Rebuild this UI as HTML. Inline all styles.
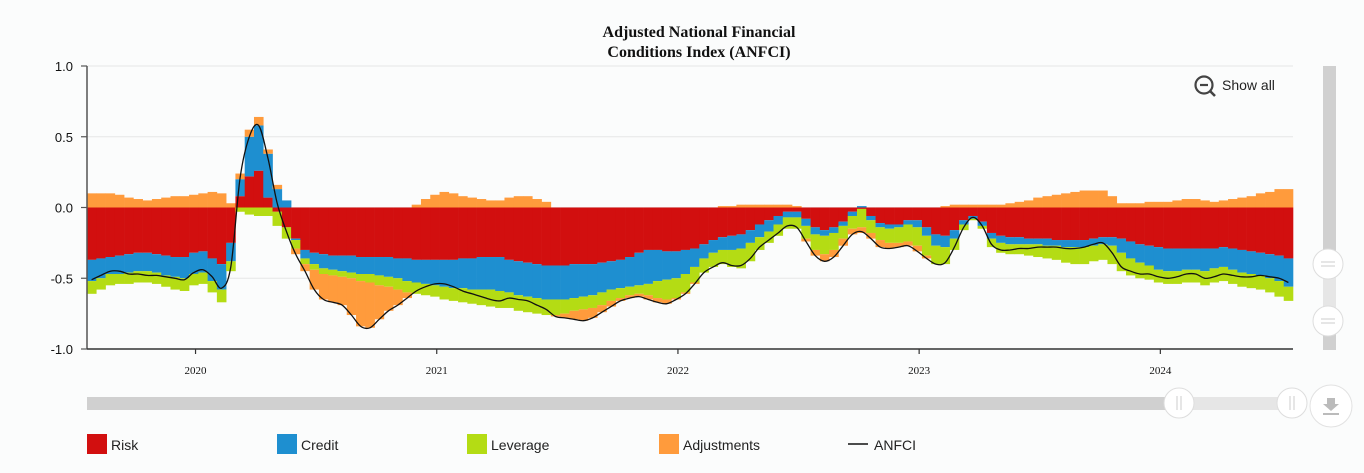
<!DOCTYPE html>
<html><head><meta charset="utf-8">
<style>
html,body{margin:0;padding:0;background:#fbfcfc;}
svg{display:block;font-family:"Liberation Sans",sans-serif;}
</style></head>
<body>
<svg id="chart" width="1364" height="473" viewBox="0 0 1364 473" xmlns="http://www.w3.org/2000/svg">
<rect x="0" y="0" width="1364" height="473" fill="#fbfcfc"/>
<g font-family="Liberation Serif, serif" font-weight="bold" font-size="16" fill="#111" text-anchor="middle">
<text x="699" y="37">Adjusted National Financial</text>
<text x="699" y="57">Conditions Index (ANFCI)</text>
</g>
<g id="grid"></g>
<g id="bars"></g>
<g id="line"></g>
<g id="axes"></g>
<g>
<circle cx="1204" cy="85" r="8.5" fill="none" stroke="#444" stroke-width="2.2"/>
<line x1="1210" y1="91" x2="1215" y2="96" stroke="#444" stroke-width="2.6"/>
<line x1="1200" y1="85" x2="1208" y2="85" stroke="#444" stroke-width="2.2"/>
<text x="1222" y="90" font-size="14" fill="#222">Show all</text>
</g>
<g>
<rect x="1323" y="66" width="13" height="284" fill="#d0d0d0"/>
<rect x="1323" y="264" width="13" height="57" fill="#e6e6e6"/>
<circle cx="1328" cy="264" r="15" fill="#fff" stroke="#ddd"/>
<line x1="1321" y1="262" x2="1335" y2="262" stroke="#ccc"/><line x1="1321" y1="266" x2="1335" y2="266" stroke="#ccc"/>
<circle cx="1328" cy="321" r="15" fill="#fff" stroke="#ddd"/>
<line x1="1321" y1="319" x2="1335" y2="319" stroke="#ccc"/><line x1="1321" y1="323" x2="1335" y2="323" stroke="#ccc"/>
</g>
<g>
<rect x="87" y="397" width="1093" height="13" fill="#d0d0d0"/>
<rect x="1180" y="397" width="112" height="13" fill="#e6e6e6"/>
<circle cx="1179" cy="403" r="15" fill="#fff" stroke="#ddd"/>
<line x1="1177" y1="396" x2="1177" y2="410" stroke="#ccc"/><line x1="1181" y1="396" x2="1181" y2="410" stroke="#ccc"/>
<circle cx="1292" cy="403" r="15" fill="#fff" stroke="#ddd"/>
<line x1="1290" y1="396" x2="1290" y2="410" stroke="#ccc"/><line x1="1294" y1="396" x2="1294" y2="410" stroke="#ccc"/>
</g>
<g>
<circle cx="1331" cy="406" r="21" fill="#fff" stroke="#e2e2e2"/>
<path d="M1327 398h8v6h4l-8 7-8-7h4z" fill="#bbb"/>
<rect x="1323" y="413" width="16" height="2" fill="#bbb"/>
</g>
<g id="legend" font-size="14" fill="#222"></g>
</svg>
<script>
// Data: bi-weekly observations, Jul 2019 - Jul 2024
const startYear = 2019.55;
const stepYears = 2/52;
const risk = [-.37,-.36,-.35,-.34,-.33,-.32,-.32,-.33,-.34,-.35,-.35,-.32,-.31,-.36,-.40,-.25,.08,.22,.26,.07,-.03,-.14,-.22,-.30,-.32,-.33,-.34,-.34,-.34,-.35,-.35,-.35,-.35,-.36,-.36,-.37,-.37,-.37,-.37,-.37,-.36,-.36,-.35,-.35,-.35,-.37,-.38,-.39,-.40,-.41,-.41,-.41,-.40,-.40,-.40,-.39,-.38,-.37,-.35,-.32,-.30,-.30,-.31,-.31,-.30,-.29,-.26,-.23,-.21,-.20,-.19,-.16,-.12,-.09,-.06,-.03,-.03,-.08,-.14,-.16,-.14,-.10,-.03,-.01,-.06,-.11,-.12,-.12,-.09,-.09,-.14,-.19,-.20,-.16,-.09,-.06,-.10,-.18,-.20,-.21,-.21,-.22,-.22,-.22,-.23,-.23,-.23,-.23,-.22,-.21,-.21,-.22,-.24,-.26,-.27,-.28,-.29,-.29,-.29,-.29,-.29,-.29,-.28,-.29,-.30,-.31,-.32,-.33,-.34,-.36];
const credit = [-.15,-.14,-.12,-.13,-.13,-.13,-.13,-.13,-.14,-.14,-.15,-.15,-.15,-.16,-.18,-.13,.12,.28,.32,.31,.13,.05,-.01,-.06,-.08,-.10,-.10,-.11,-.12,-.12,-.12,-.13,-.14,-.14,-.16,-.16,-.17,-.18,-.19,-.20,-.21,-.22,-.23,-.23,-.24,-.23,-.24,-.24,-.24,-.24,-.24,-.24,-.24,-.23,-.22,-.21,-.20,-.20,-.21,-.23,-.24,-.22,-.20,-.19,-.17,-.13,-.10,-.09,-.09,-.10,-.10,-.09,-.09,-.08,-.06,-.04,-.04,-.05,-.05,-.04,-.04,-.03,-.03,.01,-.03,-.03,-.03,-.02,-.03,-.05,-.06,-.08,-.08,-.06,-.03,-.02,-.03,-.04,-.05,-.05,-.05,-.04,-.04,-.05,-.04,-.05,-.05,-.05,-.05,-.05,-.06,-.10,-.12,-.13,-.14,-.16,-.16,-.16,-.15,-.15,-.16,-.14,-.14,-.15,-.16,-.16,-.16,-.17,-.18,-.20];
const leverage = [-.09,-.08,-.08,-.07,-.08,-.08,-.08,-.08,-.08,-.09,-.09,-.08,-.08,-.08,-.09,-.07,-.03,-.05,-.06,-.06,-.10,-.08,-.06,-.04,-.04,-.04,-.04,-.04,-.04,-.05,-.06,-.07,-.07,-.08,-.08,-.08,-.08,-.08,-.09,-.09,-.10,-.10,-.11,-.12,-.12,-.11,-.11,-.11,-.11,-.11,-.11,-.10,-.09,-.09,-.09,-.09,-.08,-.07,-.06,-.06,-.08,-.12,-.14,-.14,-.13,-.11,-.10,-.10,-.10,-.12,-.14,-.13,-.09,-.08,-.08,-.08,-.08,-.09,-.11,-.13,-.12,-.09,-.09,-.13,-.09,-.09,-.10,-.11,-.12,-.13,-.14,-.13,-.12,-.08,-.04,-.01,-.02,-.06,-.07,-.07,-.07,-.08,-.09,-.09,-.10,-.11,-.12,-.12,-.11,-.11,-.13,-.13,-.12,-.11,-.10,-.09,-.09,-.09,-.09,-.09,-.10,-.10,-.10,-.10,-.10,-.10,-.10,-.10,-.11,-.10];
const adjustments = [.10,.10,.10,.09,.07,.06,.05,.06,.07,.08,.08,.09,.10,.11,.10,.03,.04,.05,.06,.03,.03,0,-.04,-.05,-.14,-.18,-.19,-.20,-.26,-.32,-.32,-.24,-.17,-.11,-.04,.02,.06,.09,.11,.10,.08,.07,.06,.05,.05,.07,.08,.08,.06,.04,-.01,-.03,-.06,-.08,-.07,-.05,-.04,-.02,-.02,-.02,-.03,-.03,-.03,-.01,-.01,-.01,0,0,.01,.01,.02,.02,.02,.02,.02,.02,.01,-.02,-.04,-.05,-.05,-.05,-.04,-.04,-.04,-.05,-.04,-.03,-.03,-.04,-.02,0,.01,.02,.02,.02,.02,.02,.02,.03,.04,.05,.07,.08,.09,.10,.11,.12,.12,.12,.08,.03,.03,.03,.04,.04,.04,.05,.06,.06,.05,.04,.05,.06,.07,.08,.10,.11,.13,.13];
const yTicks = [1.0, 0.5, 0.0, -0.5, -1.0];
const yTickLabels = ["1.0","0.5","0.0","-0.5","-1.0"];
const xTicks = [2020, 2021, 2022, 2023, 2024];
const xTickLabels = ["2020","2021","2022","2023","2024"];

const NS = "http://www.w3.org/2000/svg";
const plotL = 87, plotR = 1293, plotT = 66, plotB = 349;
const xMin = startYear, xMax = startYear + risk.length * stepYears;
const xScale = t => plotL + (t - xMin) / (xMax - xMin) * (plotR - plotL);
const yScale = v => plotT + (1.0 - v) / 2.0 * (plotB - plotT);
function mk(tag, attrs, parent) { const e = document.createElementNS(NS, tag); for (const k in attrs) e.setAttribute(k, attrs[k]); parent.appendChild(e); return e; }

const grid = document.getElementById('grid');
yTicks.forEach(v => {
  if (v === -1.0) return;
  const g = mk('line', {x1: plotL, x2: plotR, y1: yScale(v), y2: yScale(v), stroke: '#e6e6e6', 'stroke-width': 1}, grid);
  
  
});

const series = [
  {name: 'risk', vals: risk, color: '#d20f0f'},
  {name: 'credit', vals: credit, color: '#1e8fd0'},
  {name: 'leverage', vals: leverage, color: '#b4dc14'},
  {name: 'adjustments', vals: adjustments, color: '#ff9b3c'}
];
const bars = document.getElementById('bars');
const bw = (xScale(xMin + stepYears) - xScale(xMin));
for (let i = 0; i < risk.length; i++) {
  let pos = 0, neg = 0;
  const x0 = xScale(xMin + i * stepYears);
  series.forEach(s => {
    const v = s.vals[i];
    if (v === 0) return;
    let y1, y2;
    if (v > 0) { y1 = yScale(pos + v); y2 = yScale(pos); pos += v; }
    else { y1 = yScale(neg); y2 = yScale(neg + v); neg += v; }
    const r = mk('rect', {x: x0, y: y1, width: bw + 0.3, height: Math.max(0, y2 - y1), fill: s.color}, bars);
    
    
  });
}

// ANFCI line = sum of contributions
const lineG = document.getElementById('line');
const pts = risk.map((v, i) => [xScale(xMin + (i + 0.5) * stepYears), yScale(v + credit[i] + leverage[i] + adjustments[i])]);
let d = 'M' + pts[0][0].toFixed(1) + ' ' + pts[0][1].toFixed(1);
for (let i = 0; i < pts.length - 1; i++) {
  const p0 = pts[Math.max(0, i - 1)], p1 = pts[i], p2 = pts[i + 1], p3 = pts[Math.min(pts.length - 1, i + 2)];
  const c1 = [p1[0] + (p2[0] - p0[0]) / 6, p1[1] + (p2[1] - p0[1]) / 6];
  const c2 = [p2[0] - (p3[0] - p1[0]) / 6, p2[1] - (p3[1] - p1[1]) / 6];
  d += ' C' + c1[0].toFixed(1) + ' ' + c1[1].toFixed(1) + ' ' + c2[0].toFixed(1) + ' ' + c2[1].toFixed(1) + ' ' + p2[0].toFixed(1) + ' ' + p2[1].toFixed(1);
}
const ln = mk('path', {d: d, fill: 'none', stroke: '#111', 'stroke-width': 1.3}, lineG);



const axes = document.getElementById('axes');
const yl = mk('line', {x1: plotL, x2: plotL, y1: plotT, y2: plotB, stroke: '#555', 'stroke-width': 1.5}, axes);


const xl = mk('line', {x1: plotL, x2: plotR, y1: plotB, y2: plotB, stroke: '#333', 'stroke-width': 1.5}, axes);


yTicks.forEach((v, k) => {
  const t = mk('line', {x1: plotL - 6, x2: plotL, y1: yScale(v), y2: yScale(v), stroke: '#555', 'stroke-width': 1.2}, axes);
  
  
  const tx = mk('text', {x: plotL - 14, y: yScale(v) + 5, 'text-anchor': 'end', 'font-size': 13, fill: '#111'}, axes);
  tx.textContent = yTickLabels[k];
  
  
});
xTicks.forEach((v, k) => {
  const x = xScale(v);
  const t = mk('line', {x1: x, x2: x, y1: plotB, y2: plotB + 5, stroke: '#333', 'stroke-width': 1.2}, axes);
  
  
  const tx = mk('text', {x: x, y: plotB + 25, 'text-anchor': 'middle', 'font-size': 11, 'font-family': 'Liberation Serif, serif', fill: '#111'}, axes);
  tx.textContent = xTickLabels[k];
  
  
});

const legend = document.getElementById('legend');
const legendItems = [['Risk','#d20f0f',87],['Credit','#1e8fd0',277],['Leverage','#b4dc14',467],['Adjustments','#ff9b3c',659]];
legendItems.forEach(it => {
  const g = mk('g', {}, legend);
  
  
  mk('rect', {x: it[2], y: 434, width: 20, height: 20, fill: it[1]}, g);
  const t = mk('text', {x: it[2] + 24, y: 450}, g);
  t.textContent = it[0];
});
const lg = mk('g', {}, legend);


mk('line', {x1: 848, x2: 868, y1: 444, y2: 444, stroke: '#111', 'stroke-width': 1.5}, lg);
const lt = mk('text', {x: 874, y: 450}, lg);
lt.textContent = 'ANFCI';
</script>
</body></html>
